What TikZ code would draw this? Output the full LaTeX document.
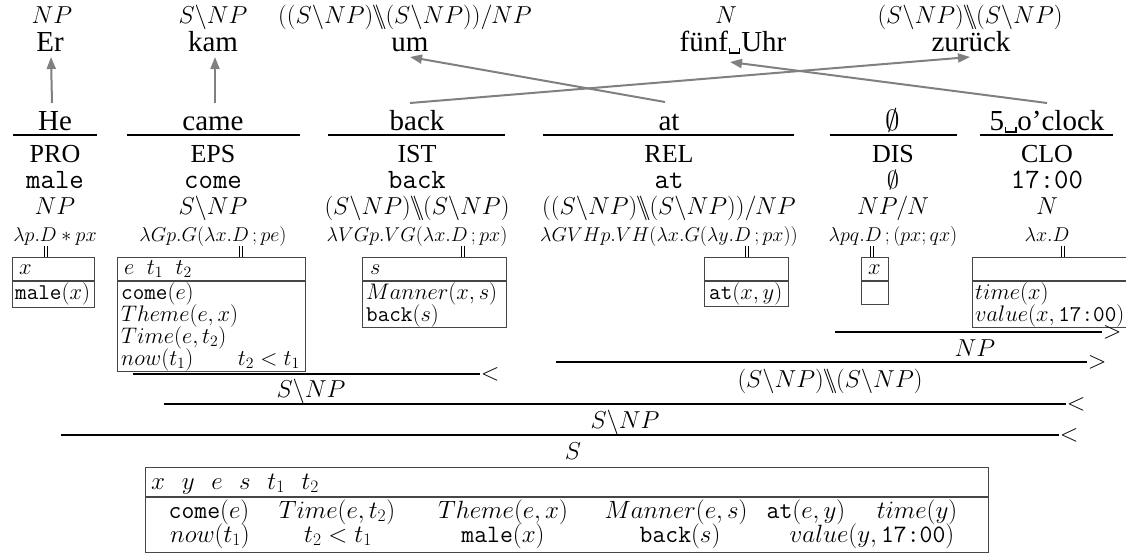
\RequirePackage{fix-cm}
\documentclass[tikz,border=0pt]{standalone}
\usepackage[no-math]{fontspec}
\setmainfont{Liberation Serif}
\usetikzlibrary{arrows.meta,calc}
\definecolor{arrowgray}{RGB}{128,128,128}
\definecolor{boxgray}{RGB}{70,70,70}
\newcommand\bbs{\mkern-1mu\backslash\mkern-7mu\backslash\mkern-1mu}
\newcommand\vsp{\kern.03em\raisebox{-.1em}{\vrule width .05em height .2em depth 0pt\vrule width .3em height .05em depth 0pt\vrule width .05em height .2em depth 0pt}\kern.03em}
\begin{document}
\begin{tikzpicture}[x=1pt,y=-1pt,
  wordf/.style={font=\fontsize{29}{33}\selectfont, inner sep=0pt, anchor=base},
  catf/.style={font=\fontsize{24.5}{28}\selectfont, inner sep=0pt, anchor=base},
  tagf/.style={font=\fontsize{26}{30}\selectfont, inner sep=0pt, anchor=base},
  ttf/.style={font=\fontsize{28}{32}\selectfont\ttfamily, inner sep=0pt, anchor=base},
  lamf/.style={font=\fontsize{20}{22}\selectfont, inner sep=0pt, anchor=base},
  boxf/.style={font=\fontsize{22.5}{25}\selectfont, inner sep=0pt, anchor=base west},
  boxc/.style={font=\fontsize{25}{27}\selectfont, inner sep=0pt, anchor=base},
  drs/.style={draw=boxgray, line width=1.1pt, inner sep=0pt, anchor=north west},
  drsl/.style={draw=boxgray, line width=1.1pt},
  garrow/.style={draw=arrowgray, line width=2pt, -{Triangle[length=12pt,width=9pt]}},
  uline/.style={line width=1.8pt},
  dline/.style={line width=1.6pt},
  dbar/.style={double, double distance=2.2pt, line width=0.7pt},
  ruleend/.style={font=\fontsize{24.5}{28}\selectfont, inner sep=0pt}
]
\path[use as bounding box] (0,0) rectangle (1126,555);
\clip (0,0) rectangle (1126,555);

% ---- German side ----
\node[catf] (cEr)  at (52,23)  {$NP$};
\node[catf] (cKam) at (213,23) {$S\backslash NP$};
\node[catf] (cUm)  at (405,23) {$((S\backslash NP)\bbs(S\backslash NP))/NP$};
\node[catf] (cUhr) at (726,23) {$N$};
\node[catf] (cZur) at (970,23) {$(S\backslash NP)\bbs(S\backslash NP)$};

\node[wordf] (er)  at (50,51)  {Er};
\node[wordf] (kam) at (213,51) {kam};
\node[wordf] (um)  at (410,51) {um};
\node[wordf] (uhr) at (733,51) {fünf\vsp Uhr};
\node[wordf] (zur) at (971,51) {zurück};

% ---- English words ----
\node[wordf] (he)    at (55,130)   {He};
\node[wordf] (came)  at (213,130)  {came};
\node[wordf] (back)  at (417,130)  {back};
\node[wordf] (at)    at (669,130)  {at};
\node[wordf] (nil)   at (893,130)  {$\emptyset$};
\node[wordf] (clock) at (1047,130) {5\vsp o'clock};

\draw[uline] (13,135) -- (97,135);
\draw[uline] (127,135) -- (300,135);
\draw[uline] (328,135) -- (505,135);
\draw[uline] (543,135) -- (794,135);
\draw[uline] (830,135) -- (957,135);
\draw[uline] (980,135) -- (1113,135);

% ---- alignment arrows ----
\draw[garrow] ($(he.base)+(-3,-27)$) -- ($(er.base)+(1,6)$);
\draw[garrow] ($(came.base)+(2,-27)$) -- ($(kam.base)+(2,6)$);
\draw[garrow] ($(back.base)+(-7,-27)$) -- ($(zur.base)+(-1,6)$);
\draw[garrow] ($(at.base)+(-4,-28)$) -- ($(um.base)+(0,6)$);
\draw[garrow] ($(clock.base)+(0,-27)$) -- ($(uhr.base)+(-3,11)$);

% ---- tags ----
\node[tagf] (tPRO) at (55,162)   {PRO};
\node[tagf] (tEPS) at (213,162)  {EPS};
\node[tagf] (tIST) at (417,162)  {IST};
\node[tagf] (tREL) at (669,162)  {REL};
\node[tagf] (tDIS) at (893,162)  {DIS};
\node[tagf] (tCLO) at (1047,162) {CLO};

\node[ttf] (sPRO) at (55,188)   {male};
\node[ttf] (sEPS) at (213,188)  {come};
\node[ttf] (sIST) at (417,188)  {back};
\node[ttf] (sREL) at (669,188)  {at};
\node[catf] (sDIS) at (893,188) {$\emptyset$};
\node[ttf] (sCLO) at (1047,188) {17:00};

\node[catf] (kPRO) at (55,214)   {$NP$};
\node[catf] (kEPS) at (213,214)  {$S\backslash NP$};
\node[catf] (kIST) at (417,214)  {$(S\backslash NP)\bbs(S\backslash NP)$};
\node[catf] (kREL) at (669,214)  {$((S\backslash NP)\bbs(S\backslash NP))/NP$};
\node[catf] (kDIS) at (893,214)  {$NP/N$};
\node[catf] (kCLO) at (1047,214) {$N$};

\node[lamf] (lPRO) at (55,241)   {$\lambda p.D * px$};
\node[lamf] (lEPS) at (213,241)  {$\lambda Gp.G(\lambda x.D\,;pe)$};
\node[lamf] (lIST) at (417,241)  {$\lambda VGp.VG(\lambda x.D\,;px)$};
\node[lamf] (lREL) at (669,241)  {$\lambda GVHp.VH(\lambda x.G(\lambda y.D\,;px))$};
\node[lamf] (lDIS) at (893,241)  {$\lambda pq.D\,;(px;qx)$};
\node[lamf] (lCLO) at (1047,241) {$\lambda x.D$};

% ---- DRS boxes ----
\coordinate (hdiv) at (0,281);
\node[drs, minimum width=82pt,  minimum height=50pt]  (bPRO) at (12,257)  {};
\node[drs, minimum width=188pt, minimum height=114pt] (bEPS) at (117,257) {};
\node[drs, minimum width=144pt, minimum height=70pt]  (bIST) at (362,257) {};
\node[drs, minimum width=84pt,  minimum height=49pt]  (bREL) at (704,257) {};
\node[drs, minimum width=27pt,  minimum height=47pt]  (bDIS) at (861,257) {};
\node[drs, minimum width=170pt, minimum height=70pt]  (bCLO) at (972,257) {};
\foreach \b in {bPRO,bEPS,bIST,bREL,bDIS,bCLO}{
  \draw[drsl] (\b.west |- hdiv) -- (\b.east |- hdiv);
}

\coordinate (dPRO) at (46,246);
\coordinate (dEPS) at (241,246);
\coordinate (dIST) at (463,246);
\coordinate (dREL) at (747,246);
\coordinate (dDIS) at (872,246);
\coordinate (dCLO) at (1063,246);
\draw[dbar] (dPRO) -- (dPRO |- bPRO.north);
\draw[dbar] (dEPS) -- (dEPS |- bEPS.north);
\draw[dbar] (dIST) -- (dIST |- bIST.north);
\draw[dbar] (dREL) -- (dREL |- bREL.north);
\draw[dbar] (dDIS) -- (dDIS |- bDIS.north);
\draw[dbar] (dCLO) -- (dCLO |- bCLO.north);

\node[boxf] at (19,274)  {$x$};
\node[boxf] at (15,299)  {$\texttt{male}(x)$};

\node[boxf] at (124,274) {$e\mkern10mu t_1\mkern10mu t_2$};
\node[boxf] at (121,299) {$\texttt{come}(e)$};
\node[boxf] at (121,321) {$Theme(e,x)$};
\node[boxf] at (121,343) {$Time(e,t_2)$};
\node[boxf] at (121,365) {$now(t_1)$};
\node[boxf, anchor=base east] at (300,365) {$t_2<t_1$};

\node[boxf] at (370,274) {$s$};
\node[boxf] at (366,299) {$Manner(x,s)$};
\node[boxf] at (366,321) {$\texttt{back}(s)$};

\node[boxf] at (709,299) {$\texttt{at}(x,y)$};

\node[boxf] at (868,274) {$x$};

\node[boxf] at (975,299) {$time(x)$};
\node[boxf] at (975,321) {$value(x,\texttt{17:00})$};

% ---- derivation ----
\draw[dline] (835,332) -- (1102,332) node[ruleend, anchor=west] (r1) {$>$};
\node[catf] (n1) at (975,356) {$NP$};
\draw[dline] (556,362) -- (1087,362) node[ruleend, anchor=west] (r2) {$>$};
\node[catf] (n2) at (830,387) {$(S\backslash NP)\bbs(S\backslash NP)$};
\draw[dline] (133,374) -- (480,374) node[ruleend, anchor=west] (r3) {$<$};
\node[catf] (n3) at (311,397) {$S\backslash NP$};
\draw[dline] (164,404) -- (1066,404) node[ruleend, anchor=west] (r4) {$<$};
\node[catf] (n4) at (625,428) {$S\backslash NP$};
\draw[dline] (61,435) -- (1059,435) node[ruleend, anchor=west] (r5) {$<$};
\node[catf] (n5) at (573,459) {$S$};

% ---- final DRS ----
\node[drs, minimum width=843pt, minimum height=85pt] (fin) at (145,467) {};
\coordinate (fdiv) at (0,497);
\draw[drsl] (fin.west |- fdiv) -- (fin.east |- fdiv);
\node[boxc, anchor=base west] at (151,489) {$x\mkern12mu y\mkern12mu e\mkern12mu s\mkern12mu t_1\mkern12mu t_2$};
\node[boxc] at (209,518) {$\texttt{come}(e)$};
\node[boxc] at (337,518) {$Time(e,t_2)$};
\node[boxc] at (503,518) {$Theme(e,x)$};
\node[boxc] at (676,518) {$Manner(e,s)$};
\node[boxc] at (806,518) {$\texttt{at}(e,y)$};
\node[boxc] at (917,518) {$time(y)$};
\node[boxc] at (210,542) {$now(t_1)$};
\node[boxc] at (338,542) {$t_2<t_1$};
\node[boxc] at (503,542) {$\texttt{male}(x)$};
\node[boxc] at (680,542) {$\texttt{back}(s)$};
\node[boxc] at (872,542) {$value(y,\texttt{17:00})$};
\end{tikzpicture}
\end{document}
